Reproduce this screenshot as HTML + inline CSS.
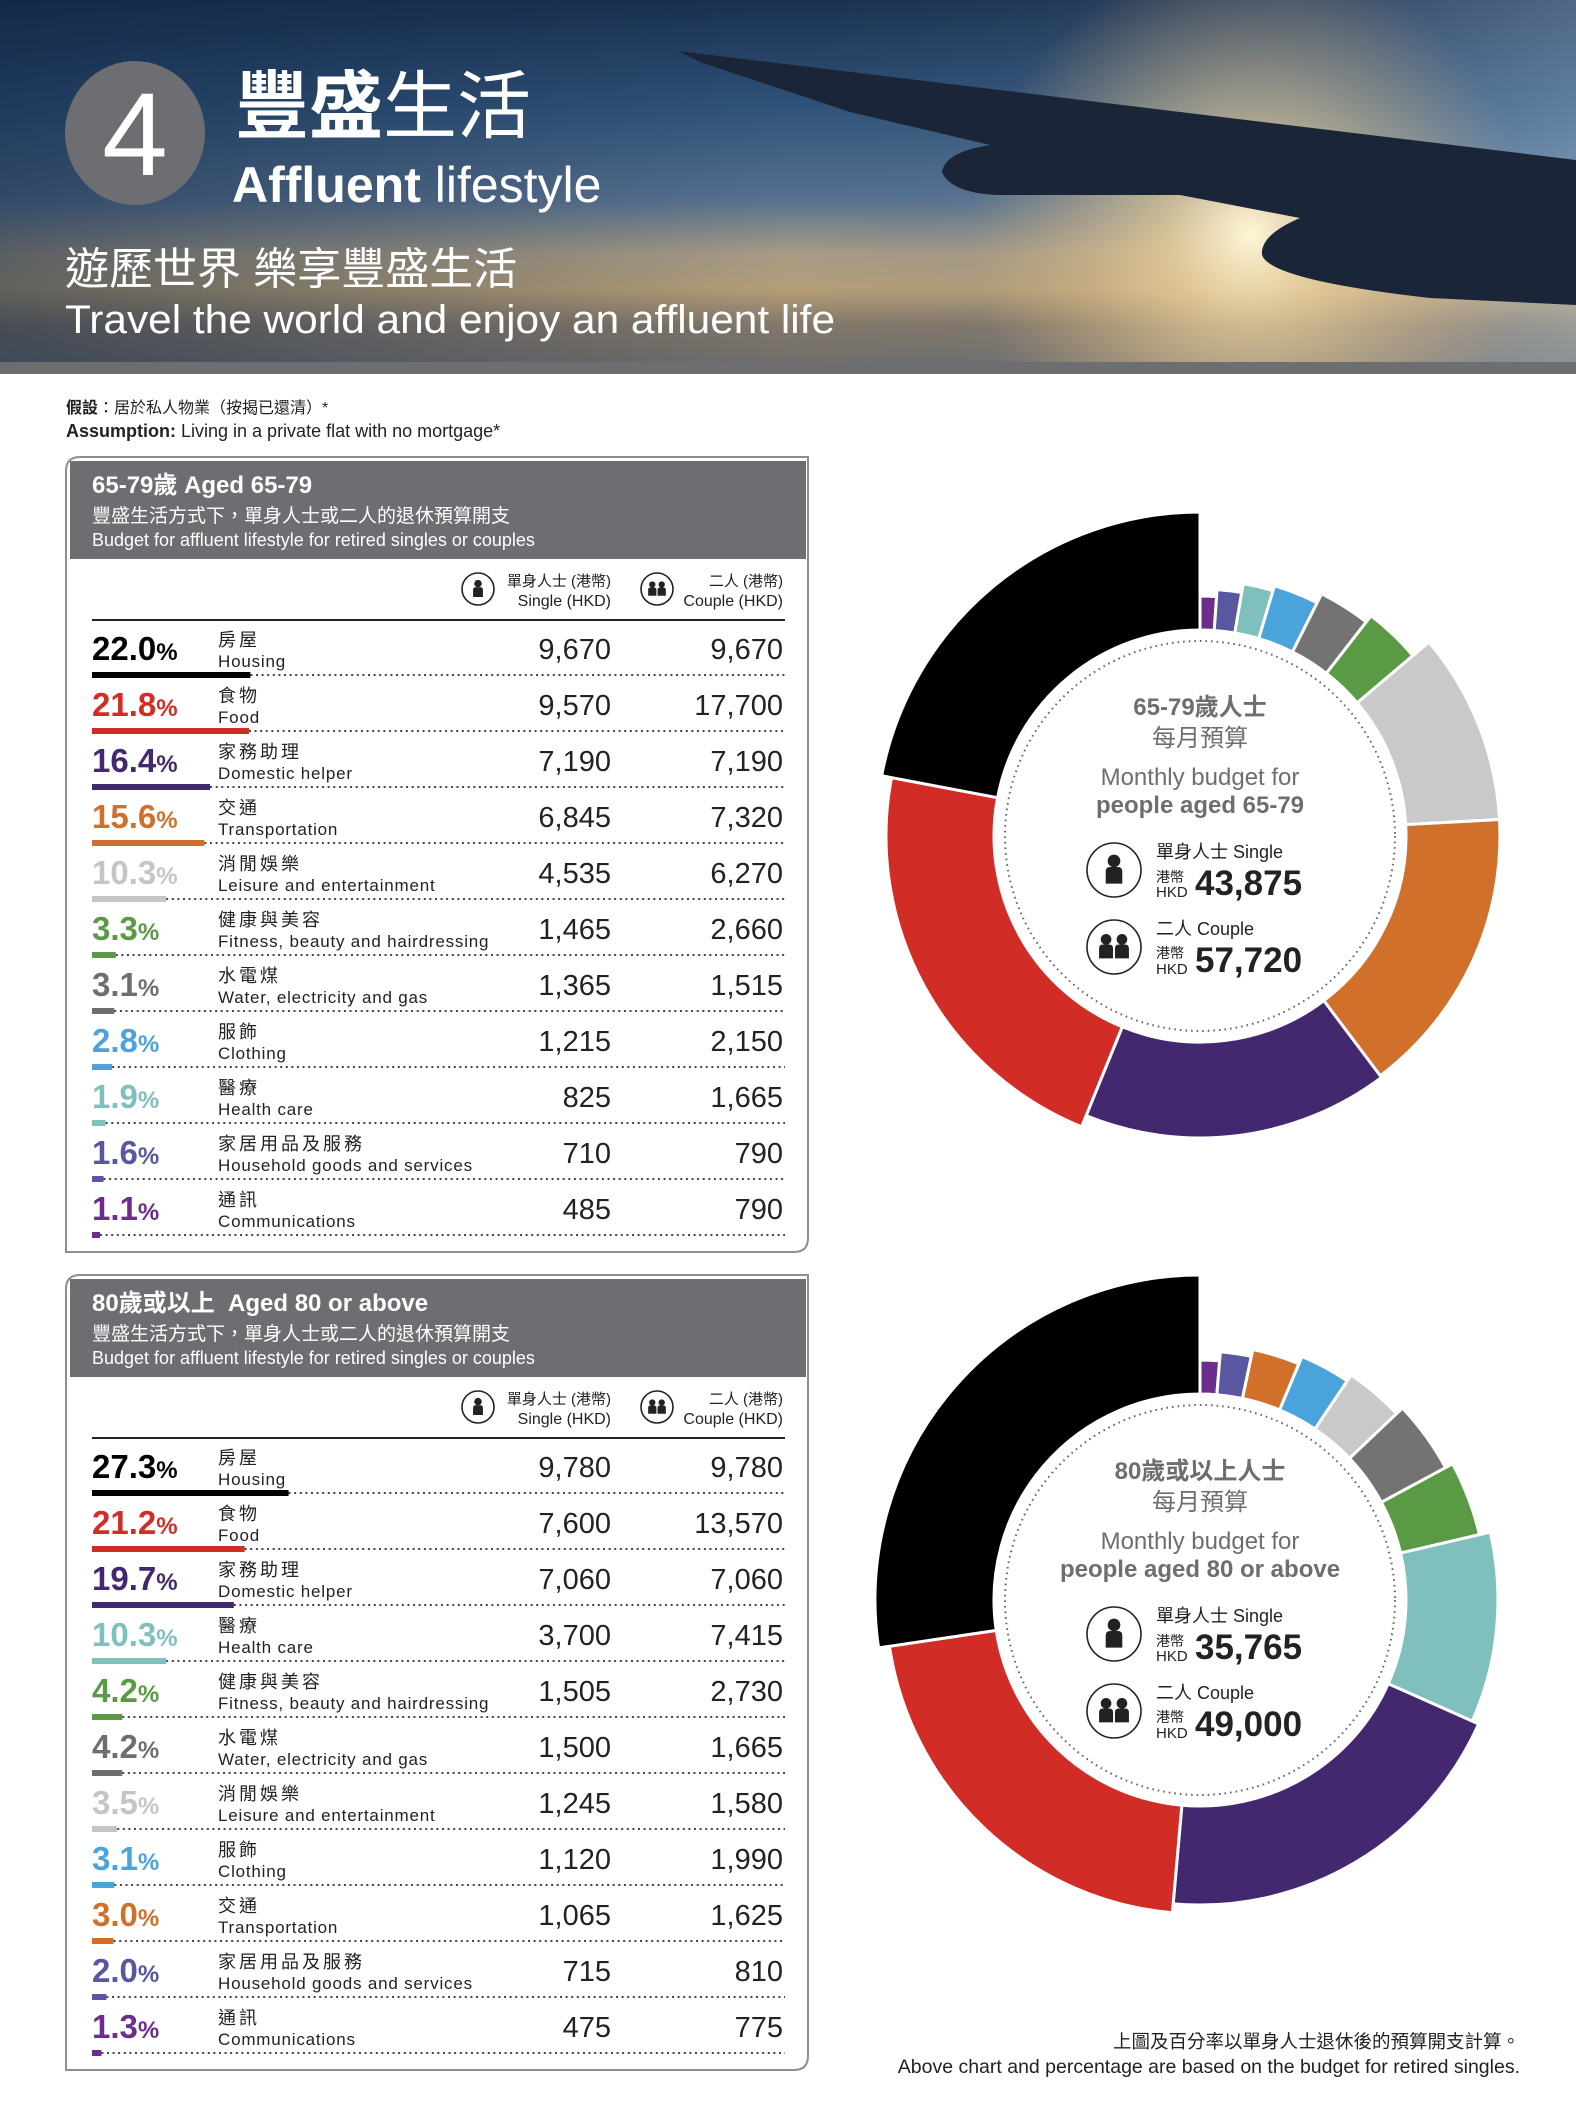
<!DOCTYPE html>
<html><head><meta charset="utf-8">
<style>
html,body{margin:0;padding:0;background:#fff;}
svg{display:block;}
.cn{font-family:"Liberation Sans","Noto Sans CJK TC",sans-serif;}
.nar{font-family:"Liberation Sans Narrow","Liberation Sans","Noto Sans CJK TC",sans-serif;}
</style></head>
<body>
<svg id="s" width="1576" height="2104" viewBox="0 0 1576 2104" xmlns="http://www.w3.org/2000/svg">
<defs>
<linearGradient id="sky" x1="0" y1="0" x2="0" y2="1">
<stop offset="0" stop-color="#1c3352"/>
<stop offset="0.3" stop-color="#345980"/>
<stop offset="0.55" stop-color="#5f7a98"/>
<stop offset="0.7" stop-color="#b8a98e"/>
<stop offset="0.8" stop-color="#c7ac7e"/>
<stop offset="0.9" stop-color="#8e806e"/>
<stop offset="1" stop-color="#7c7872"/>
</linearGradient>
<linearGradient id="lft" x1="0" y1="0" x2="1" y2="0">
<stop offset="0" stop-color="#0e2240" stop-opacity="0.55"/>
<stop offset="0.5" stop-color="#0e2240" stop-opacity="0.1"/>
<stop offset="1" stop-color="#b0c8e0" stop-opacity="0.35"/>
</linearGradient>
<radialGradient id="glow" cx="1250" cy="235" r="280" gradientUnits="userSpaceOnUse">
<stop offset="0" stop-color="#fff6d8" stop-opacity="1"/>
<stop offset="0.3" stop-color="#f2d59a" stop-opacity="0.7"/>
<stop offset="1" stop-color="#e0b070" stop-opacity="0"/>
</radialGradient>
</defs>
<rect x="0" y="0" width="1576" height="362" fill="url(#sky)"/>
<rect x="0" y="0" width="1576" height="362" fill="url(#lft)"/>
<rect x="0" y="0" width="1576" height="362" fill="url(#glow)"/>
<path d="M678,51 L1576,160 L1576,305 L1430,298 Q1270,280 1262,255 Q1260,235 1300,218 L1180,195 L995,195 Q950,192 942,172 Q945,152 990,145 L850,112 L700,62 Z" fill="#1b2538"/>
<rect x="0" y="362" width="1576" height="12" fill="#6d6e71"/>
<ellipse cx="135" cy="133" rx="70" ry="72" fill="#6d6e71"/>
<text x="135" y="175" text-anchor="middle" class="cn" font-size="118" fill="#fff">4</text>
<text x="235" y="132" class="cn" font-size="74" fill="#fff"><tspan font-weight="bold">豐盛</tspan>生活</text>
<text x="232" y="202" class="cn" font-size="50" fill="#fff"><tspan font-weight="bold">Affluent</tspan> lifestyle</text>
<text x="65" y="284" class="cn" font-size="44" fill="#fff">遊歷世界 樂享豐盛生活</text>
<text x="65" y="333" class="cn" font-size="40" fill="#fff" textLength="770" lengthAdjust="spacingAndGlyphs">Travel the world and enjoy an affluent life</text>

<text x="66" y="413" class="cn" font-size="16" fill="#222"><tspan font-weight="bold">假設</tspan>：居於私人物業（按揭已還清）*</text>
<text x="66" y="437" class="cn" font-size="18" fill="#222"><tspan font-weight="bold">Assumption:</tspan> Living in a private flat with no mortgage*</text>

<text x="1520" y="2048" text-anchor="end" class="cn" font-size="18.5" fill="#222">上圖及百分率以單身人士退休後的預算開支計算。</text>
<text x="1520" y="2073" text-anchor="end" class="cn" font-size="19.5" fill="#222">Above chart and percentage are based on the budget for retired singles.</text>
<g id="dyn"></g>
</svg>
<script>
var out="";
function person(cx,cy,s){
  return '<circle cx="'+cx+'" cy="'+(cy-6*s)+'" r="'+(4.2*s)+'" fill="#222"/>'+
  '<path d="M'+(cx-5.5*s)+','+(cy+9*s)+' L'+(cx-5.5*s)+','+(cy+1*s)+' Q'+(cx-5.5*s)+','+(cy-2*s)+' '+(cx-2.5*s)+','+(cy-2*s)+' L'+(cx+2.5*s)+','+(cy-2*s)+' Q'+(cx+5.5*s)+','+(cy-2*s)+' '+(cx+5.5*s)+','+(cy+1*s)+' L'+(cx+5.5*s)+','+(cy+9*s)+' Z" fill="#222"/>';
}
function icon(cx,cy,r,couple){
  var s=r/17;
  var g='<circle cx="'+cx+'" cy="'+cy+'" r="'+r+'" fill="#fff" stroke="#222" stroke-width="1.6"/>';
  if(!couple) g+=person(cx,cy,s*0.95);
  else g+=person(cx-5*s,cy,s*0.8)+person(cx+5*s,cy,s*0.8);
  return g;
}
function box(y0,title,data){
  var x0=66,x1=808,y1=y0+795,r=14;
  out+='<path d="M'+x0+','+y1+' L'+x0+','+(y0+r)+' Q'+x0+','+y0+' '+(x0+r)+','+y0+' L'+x1+','+y0+' L'+x1+','+(y1-r)+' Q'+x1+','+y1+' '+(x1-r)+','+y1+' Z" fill="#fff" stroke="#8e8e8e" stroke-width="2"/>';
  out+='<rect x="70" y="'+(y0+4)+'" width="736" height="98" fill="#6d6e71"/>';
  out+='<text x="92" y="'+(y0+36)+'" class="cn" font-size="24" font-weight="bold" fill="#fff">'+title+'</text>';
  out+='<text x="92" y="'+(y0+65)+'" class="cn" font-size="19" fill="#fff">豐盛生活方式下，單身人士或二人的退休預算開支</text>';
  out+='<text x="92" y="'+(y0+89)+'" class="cn" font-size="18" fill="#fff">Budget for affluent lifestyle for retired singles or couples</text>';
  var hy=y0+132;
  out+=icon(478,hy,16,false)+icon(657,hy,16,true);
  out+='<text x="611" y="'+(hy-3)+'" text-anchor="end" class="nar" font-size="15" fill="#222">單身人士 (港幣)</text>';
  out+='<text x="611" y="'+(hy+17)+'" text-anchor="end" class="nar" font-size="16" fill="#222">Single (HKD)</text>';
  out+='<text x="783" y="'+(hy-3)+'" text-anchor="end" class="nar" font-size="15" fill="#222">二人 (港幣)</text>';
  out+='<text x="783" y="'+(hy+17)+'" text-anchor="end" class="nar" font-size="16" fill="#222">Couple (HKD)</text>';
  var ly=y0+163;
  out+='<line x1="92" y1="'+ly+'" x2="785" y2="'+ly+'" stroke="#222" stroke-width="2"/>';
  for(var i=0;i<data.length;i++){
    var d=data[i],t=ly+56*i,b=t+55;
    var w=Math.max(8,parseFloat(d[0])*7.2);
    out+='<text x="92" y="'+(t+40)+'" class="nar" font-size="33" font-weight="bold" fill="'+d[1]+'">'+d[0]+'<tspan font-size="24">%</tspan></text>';
    out+='<text x="218" y="'+(t+26)+'" class="cn" font-size="18" letter-spacing="3" fill="#222">'+d[2]+'</text>';
    out+='<text x="218" y="'+(t+47)+'" class="cn" font-size="17" letter-spacing="0.8" fill="#222">'+d[3]+'</text>';
    out+='<text x="611" y="'+(t+39)+'" text-anchor="end" class="nar" font-size="29" fill="#222">'+d[4]+'</text>';
    out+='<text x="783" y="'+(t+39)+'" text-anchor="end" class="nar" font-size="29" fill="#222">'+d[5]+'</text>';
    out+='<line x1="'+(92+w)+'" y1="'+b+'" x2="785" y2="'+b+'" stroke="#444" stroke-width="2" stroke-dasharray="2 3.6"/>';
    out+='<rect x="92" y="'+(b-3)+'" width="'+w+'" height="6" fill="'+d[1]+'"/>';
  }
}
var C={bk:'#000',rd:'#d22c27',pu:'#432870',or:'#d0702b',lg:'#c8c9c8',gr:'#5a9a45',gy:'#737373',bl:'#4ba3dc',te:'#7fc0bd',hh:'#5957a0',cm:'#6c2d8c'};
box(457,'65-79歲 Aged 65-79',[
['22.0',C.bk,'房屋','Housing','9,670','9,670'],
['21.8',C.rd,'食物','Food','9,570','17,700'],
['16.4',C.pu,'家務助理','Domestic helper','7,190','7,190'],
['15.6',C.or,'交通','Transportation','6,845','7,320'],
['10.3','#c4c5c5','消閒娛樂','Leisure and entertainment','4,535','6,270'],
['3.3',C.gr,'健康與美容','Fitness, beauty and hairdressing','1,465','2,660'],
['3.1','#6d6e70','水電煤','Water, electricity and gas','1,365','1,515'],
['2.8',C.bl,'服飾','Clothing','1,215','2,150'],
['1.9',C.te,'醫療','Health care','825','1,665'],
['1.6',C.hh,'家居用品及服務','Household goods and services','710','790'],
['1.1',C.cm,'通訊','Communications','485','790']]);
box(1275,'80歲或以上&#160;&#160;Aged 80 or above',[
['27.3',C.bk,'房屋','Housing','9,780','9,780'],
['21.2',C.rd,'食物','Food','7,600','13,570'],
['19.7',C.pu,'家務助理','Domestic helper','7,060','7,060'],
['10.3',C.te,'醫療','Health care','3,700','7,415'],
['4.2',C.gr,'健康與美容','Fitness, beauty and hairdressing','1,505','2,730'],
['4.2','#6d6e70','水電煤','Water, electricity and gas','1,500','1,665'],
['3.5','#c4c5c5','消閒娛樂','Leisure and entertainment','1,245','1,580'],
['3.1',C.bl,'服飾','Clothing','1,120','1,990'],
['3.0',C.or,'交通','Transportation','1,065','1,625'],
['2.0',C.hh,'家居用品及服務','Household goods and services','715','810'],
['1.3',C.cm,'通訊','Communications','475','775']]);

function pt(cx,cy,r,a){a=a*Math.PI/180;return (cx+r*Math.sin(a)).toFixed(2)+','+(cy-r*Math.cos(a)).toFixed(2);}
function donut(cx,cy,segs,lines){
  var tot=0;segs.forEach(function(s){tot+=s[0];});
  var a=0,r0=206;
  segs.forEach(function(s){
    var a1=a+s[0]/tot*360,r1=s[2],lg=(a1-a)>180?1:0;
    out+='<path d="M'+pt(cx,cy,r1,a)+' A'+r1+','+r1+' 0 '+lg+' 1 '+pt(cx,cy,r1,a1)+' L'+pt(cx,cy,r0,a1)+' A'+r0+','+r0+' 0 '+lg+' 0 '+pt(cx,cy,r0,a)+' Z" fill="'+s[1]+'" stroke="#fff" stroke-width="3"/>';
    a=a1;
  });
  out+='<circle cx="'+cx+'" cy="'+cy+'" r="195" fill="none" stroke="#666" stroke-width="2" stroke-dasharray="1.6 4"/>';
  var g='#6d6e71';
  out+='<text x="'+cx+'" y="'+(cy-121)+'" text-anchor="middle" class="cn" font-size="24" font-weight="bold" fill="'+g+'">'+lines[0]+'</text>';
  out+='<text x="'+cx+'" y="'+(cy-90)+'" text-anchor="middle" class="cn" font-size="24" fill="'+g+'">每月預算</text>';
  out+='<text x="'+cx+'" y="'+(cy-51)+'" text-anchor="middle" class="cn" font-size="24" fill="'+g+'">Monthly budget for</text>';
  out+='<text x="'+cx+'" y="'+(cy-23)+'" text-anchor="middle" class="cn" font-size="24" font-weight="bold" fill="'+g+'">'+lines[1]+'</text>';
  var ix=cx-86;
  out+=icon(ix,cy+34,27,false)+icon(ix,cy+111,27,true);
  var tx=cx-44;
  out+='<text x="'+tx+'" y="'+(cy+22)+'" class="cn" font-size="18" fill="#222">單身人士 Single</text>';
  out+='<text x="'+tx+'" y="'+(cy+46)+'" class="cn" font-size="14" fill="#222">港幣</text>';
  out+='<text x="'+tx+'" y="'+(cy+61)+'" class="cn" font-size="15" fill="#222">HKD</text>';
  out+='<text x="'+(cx-5)+'" y="'+(cy+59)+'" class="cn" font-size="35" font-weight="bold" fill="#222">'+lines[2]+'</text>';
  out+='<text x="'+tx+'" y="'+(cy+99)+'" class="cn" font-size="18" fill="#222">二人 Couple</text>';
  out+='<text x="'+tx+'" y="'+(cy+122)+'" class="cn" font-size="14" fill="#222">港幣</text>';
  out+='<text x="'+tx+'" y="'+(cy+138)+'" class="cn" font-size="15" fill="#222">HKD</text>';
  out+='<text x="'+(cx-5)+'" y="'+(cy+136)+'" class="cn" font-size="35" font-weight="bold" fill="#222">'+lines[3]+'</text>';
}
donut(1200,836,[[1.1,C.cm,240],[1.6,C.hh,247],[1.9,C.te,256],[2.8,C.bl,261],[3.1,C.gy,271],[3.3,C.gr,279],[10.3,C.lg,300],[15.6,C.or,300],[16.4,C.pu,302],[21.8,C.rd,314],[22.0,C.bk,324]],
 ['65-79歲人士','people aged 65-79','43,875','57,720']);
donut(1200,1600,[[1.3,C.cm,240],[2.0,C.hh,249],[3.0,C.or,256],[3.1,C.bl,264],[3.5,C.lg,271],[4.2,C.gy,279],[4.2,C.gr,287],[10.3,C.te,298],[19.7,C.pu,305],[21.2,C.rd,314],[27.3,C.bk,325]],
 ['80歲或以上人士','people aged 80 or above','35,765','49,000']);
document.getElementById('dyn').innerHTML=out;
</script>
</body></html>
